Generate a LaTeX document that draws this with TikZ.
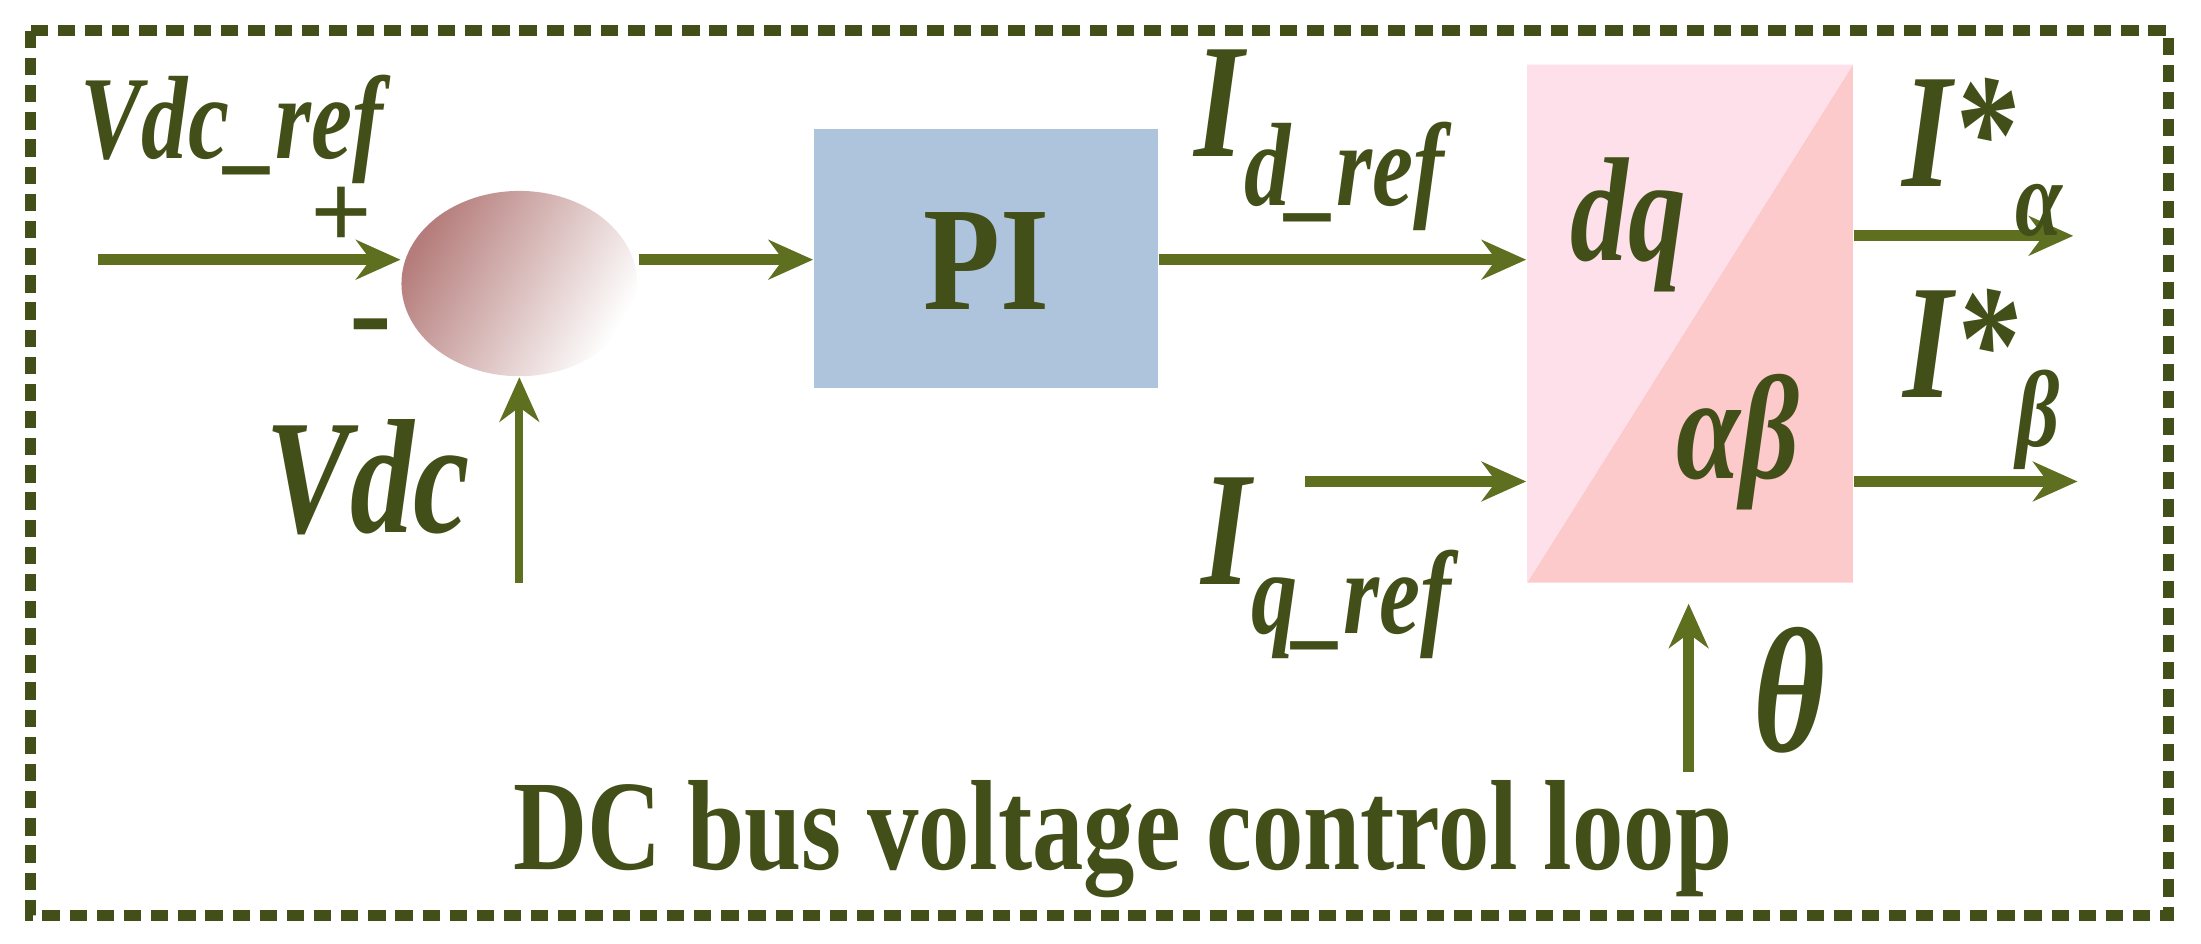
\documentclass[tikz,border=0pt]{standalone}
\usepackage{fontspec}
\setmainfont{Liberation Serif}
\usetikzlibrary{arrows.meta}
\definecolor{olv}{HTML}{434F18}
\definecolor{arr}{HTML}{5E7020}
\definecolor{pib}{HTML}{AEC4DC}
\definecolor{pk1}{HTML}{FDE0EA}
\definecolor{pk2}{HTML}{FCCACA}
\definecolor{brn}{HTML}{B47C7A}
\begin{document}
\begin{tikzpicture}[x=0.01cm,y=-0.01cm,
  lab/.style={text=olv,font=\bfseries\itshape,inner sep=0pt,xscale=0.78},
  con/.style={draw=arr,line width=2.2pt,-{Stealth[length=9pt,width=8pt]}},
  thin/.style={draw=arr,line width=1.6pt,-{Stealth[length=9pt,width=8pt]}}]
\useasboundingbox (0,0) rectangle (1568,672);
\draw[olv,line width=2.2pt,dash pattern=on 3.5pt off 2pt] (22,22) rectangle (1545,652);
% summing junction
\shade[left color=brn, right color=white, shading angle=60] (370,202) ellipse [x radius=84, y radius=66];
\node[minimum width=168*0.01cm,minimum height=132*0.01cm,inner sep=0pt] (sum) at (370,202) {};
% PI
\node[fill=pib,minimum width=2.45cm,minimum height=1.84cm,inner sep=0pt] (pi) at (702.5,184) {};
\node[text=olv,font=\bfseries\fontsize{30}{30}\selectfont,xscale=0.85] at (702.5,186) {PI};
% dq/ab box
\fill[pk2] (1088,415) -- (1320,46) -- (1320,415) -- cycle;
\fill[pk1] (1088,46) -- (1320,46) -- (1088,415) -- cycle;
\node[minimum width=2.32cm,minimum height=3.69cm,inner sep=0pt] (tr) at (1204,230.5) {};
\node[lab,font=\bfseries\itshape\fontsize{30}{30}\selectfont] at (1160,160) {dq};
\node[lab,font=\bfseries\itshape\fontsize{30}{30}\selectfont] at (1238,315) {αβ};
% coordinates
\coordinate (in) at (70,185);
\coordinate (vdcs) at (370,415);
\coordinate (iqs) at (930,343);
\coordinate (th) at (1203,550);
\coordinate (oa) at (1477,168);
\coordinate (ob) at (1480,343);
% connectors
\draw[con] (in) -- (sum.west |- in);
\draw[thin] (vdcs) -- (sum.south);
\draw[con] (455,185) -- (pi.west |- 0,185);
\draw[con] (pi.east |- 0,185) -- (tr.west |- 0,185);
\draw[con] (iqs) -- (tr.west |- iqs);
\draw[con] (tr.east |- oa) -- (oa);
\draw[con] (tr.east |- ob) -- (ob);
\draw[con] (th) -- (1203,430);
% labels
\node[lab,font=\bfseries\itshape\fontsize{24}{24}\selectfont] at (165,92) {Vdc\_ref};
\node[text=olv,font=\bfseries\fontsize{22}{22}\selectfont] at (243,155) {+};
\node[text=olv,font=\bfseries\fontsize{26}{26}\selectfont] at (264,240) {-};
\node[lab,font=\bfseries\itshape\fontsize{33}{33}\selectfont] at (262,340) {Vdc};
\node[lab,font=\bfseries\itshape\fontsize{33}{33}\selectfont] at (940,100) {I\raisebox{-0.3em}{\fontsize{24}{24}\selectfont d\_ref}};
\node[lab,font=\bfseries\itshape\fontsize{33}{33}\selectfont] at (945,405) {I\raisebox{-0.3em}{\fontsize{24}{24}\selectfont q\_ref}};
\node[lab,font=\bfseries\itshape\fontsize{33}{33}\selectfont] at (1412,112) {I*\raisebox{-0.3em}{\fontsize{22}{22}\selectfont α}};
\node[lab,font=\bfseries\itshape\fontsize{33}{33}\selectfont] at (1412,270) {I*\raisebox{-0.3em}{\fontsize{22}{22}\selectfont β}};
\node[lab,font=\bfseries\itshape\fontsize{36}{36}\selectfont] at (1275,492) {θ};
\node[text=olv,font=\bfseries\fontsize{26}{26}\selectfont,xscale=0.8] at (800,598) {DC bus voltage control loop};
\end{tikzpicture}
\end{document}
